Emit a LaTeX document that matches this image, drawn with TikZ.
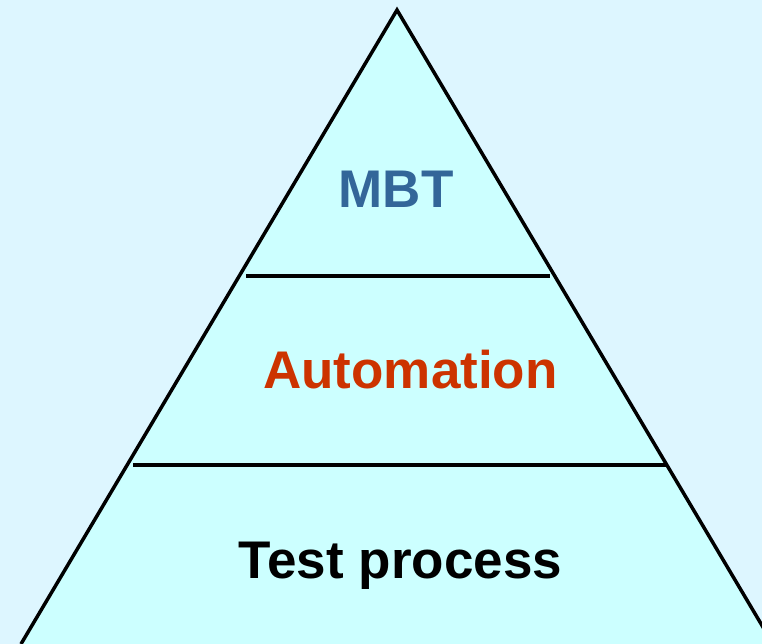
\documentclass[tikz,border=0pt]{standalone}
\usepackage{fontspec}
\setmainfont{Liberation Sans}
\definecolor{sky}{HTML}{DDF6FF}
\definecolor{layer}{HTML}{CCFFFF}
\definecolor{mbtblue}{HTML}{336699}
\definecolor{autored}{HTML}{CC3300}
\tikzstyle{every node}=[font=\fontsize{53}{60}\selectfont\bfseries, inner sep=0pt, anchor=base]

\begin{document}
\begin{tikzpicture}[x=1pt, y=-1pt, line width=3.5pt]
% Background
    \fill[sky] (0, 0) rectangle (762, 644);
    \useasboundingbox (0, 0) rectangle (762, 644);
    \clip (0, 0) rectangle (762, 644);
% Pyramid
    \filldraw[fill=layer] (21, 644) -- (397, 10) -- (773, 644);
% Layer borders
    \draw[line width=4pt] (246, 276) -- (550, 276);
    \draw[line width=4pt] (133, 465) -- (668, 465);
% Labels
    \node[mbtblue] (mbt) at (396, 207.7) {MBT};
    \node[autored] (auto) at (410.5, 388.3) {Automation};
    \node[black] (process) at (400.5, 578.3) {Test process};
\end{tikzpicture}
\end{document}
